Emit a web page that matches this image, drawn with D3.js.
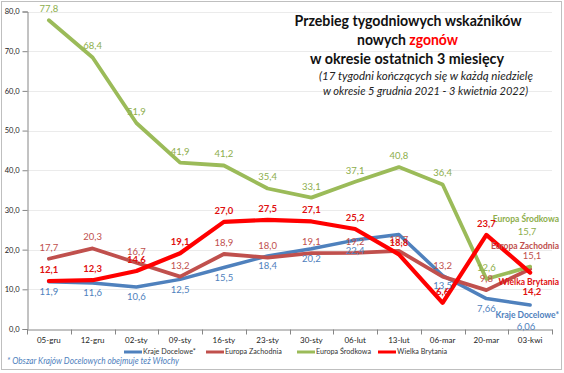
<!DOCTYPE html>
<html><head><meta charset="utf-8">
<script src="https://cdn.jsdelivr.net/npm/d3@7/dist/d3.min.js"></script>
<style>
html,body{margin:0;padding:0;background:#fff;}
svg{display:block;font-family:Lato,"Noto Sans",sans-serif;}
</style></head>
<body><svg id="c" width="564" height="373"></svg>
<script>
const categories = ["05-gru","12-gru","02-sty","09-sty","16-sty","23-sty","30-sty","06-lut","13-lut","06-mar","20-mar","03-kwi"];
const krajeDocelowe   = [11.9,11.6,10.6,12.5,15.5,18.4,20.2,22.4,23.8,13.5,7.66,6.06];
const europaZachodnia = [17.7,20.3,16.7,13.2,18.9,18.0,19.1,19.2,19.7,13.2,9.8,15.1];
const europaSrodkowa  = [77.8,68.4,51.9,41.9,41.2,35.4,33.1,37.1,40.8,36.4,12.6,15.7];
const wielkaBrytania  = [12.1,12.3,14.6,19.1,27.0,27.5,27.1,25.2,18.8,6.6,23.7,14.2];
const seriesNames = ["Kraje Docelowe*","Europa Zachodnia","Europa Środkowa","Wielka Brytania"];
const yTicks = [0,10,20,30,40,50,60,70,80];
const titleLines = ["Przebieg tygodniowych wskaźników","nowych ","zgonów","w okresie ostatnich 3 miesięcy"];
const subtitleLines = ["(17 tygodni kończących się w każdą niedzielę","w okresie 5 grudnia 2021 - 3 kwietnia 2022)"];
const footnote = "* Obszar Krajów Docelowych obejmuje też Włochy";

const series = [
  {name:seriesNames[0], values:krajeDocelowe,   color:"#4F81BD", label:"#4F81BD", width:3.5, below:true,  bold:false, hide:[8]},
  {name:seriesNames[1], values:europaZachodnia, color:"#C0504D", label:"#C0504D", width:3.8, below:false, bold:false, hide:[]},
  {name:seriesNames[2], values:europaSrodkowa,  color:"#9BBB59", label:"#8DAE4C", width:3.8, below:false, bold:false, hide:[]},
  {name:seriesNames[3], values:wielkaBrytania,  color:"#FF0000", label:"#E01010", width:4.2, below:false, bold:true,  hide:[]}
];
// end label layout (name / value) for the last point of each series
const endLabels = [
  {nameY:316, valX:526, valY:328},
  {nameY:247, valX:532, valY:257},
  {nameY:220, valX:527, valY:233},
  {nameY:283, valX:532, valY:293}
];

const fmt = v => {
  const d = Math.abs(Math.round(v*10) - v*10) < 1e-6 ? 1 : 2;
  return v.toFixed(d).replace(".", ",");
};

const svg = d3.select("#c");
// outer frame
svg.append("rect").attr("x",1.5).attr("y",1.5).attr("width",560).attr("height",368)
  .attr("fill","#fff").attr("stroke","#bfbfbf").attr("stroke-width",1);

const x = d3.scaleBand().domain(categories).range([27,552]);
const y = d3.scaleLinear().domain([0,80]).range([329,11.5]);
const cx = c => x(c) + x.bandwidth()/2;

// gridlines
svg.append("g").selectAll("line").data(yTicks.filter(t=>t>0)).join("line")
  .attr("x1",27).attr("x2",552).attr("y1",d=>Math.round(y(d))+0.5).attr("y2",d=>Math.round(y(d))+0.5)
  .attr("stroke","#ebebeb").attr("stroke-width",1);

// y axis
const ya = svg.append("g").attr("transform","translate(27.5,0)")
  .call(d3.axisLeft(y).tickValues(yTicks).tickSize(5).tickPadding(3).tickFormat(d=>d.toFixed(1).replace(".",",")));
ya.select(".domain").attr("stroke","#868686");
ya.selectAll(".tick line").attr("stroke","#868686");
ya.selectAll("text").attr("font-size",7.5).attr("fill","#222").attr("font-family","Lato");

// x axis
const xa = svg.append("g").attr("transform","translate(0,329.5)")
  .call(d3.axisBottom(x).tickSize(0).tickPadding(8).tickSizeOuter(0));
xa.select(".domain").attr("stroke","#868686");
xa.selectAll("text").attr("font-size",8).attr("fill","#222").attr("font-family","Lato");
const bounds = categories.map(c=>x(c)).concat([x.range()[1]]);
svg.append("g").selectAll("line").data(bounds).join("line")
  .attr("x1",d=>Math.round(d)+0.5).attr("x2",d=>Math.round(d)+0.5).attr("y1",329.5).attr("y2",334.5)
  .attr("stroke","#868686");

// lines
const line = d3.line().x((d,i)=>cx(categories[i])).y(d=>y(d)).curve(d3.curveLinear);
series.forEach(s=>{
  svg.append("path").datum(s.values).attr("d",line).attr("fill","none")
    .attr("stroke",s.color).attr("stroke-width",s.width).attr("stroke-linejoin","round").attr("stroke-linecap","round");
});

// data labels
series.forEach((s,si)=>{
  const g = svg.append("g");
  s.values.forEach((v,i)=>{
    if (i === s.values.length-1 || s.hide.includes(i)) return;
    g.append("text").attr("x",cx(categories[i])).attr("y",y(v) + (s.below ? 11 : -10.5))
      .attr("text-anchor","middle").attr("dominant-baseline","middle")
      .attr("font-size",9.5).attr("font-weight",s.bold?"bold":"normal")
      .attr("fill",s.label).text(fmt(v));
  });
  const e = endLabels[si];
  const last = s.values[s.values.length-1];
  g.append("text").attr("x",559).attr("y",e.nameY).attr("text-anchor","end").attr("dominant-baseline","middle")
    .attr("font-size",8.5).attr("font-weight","bold").attr("fill",s.label).text(s.name);
  g.append("text").attr("x",e.valX).attr("y",e.valY).attr("text-anchor","middle").attr("dominant-baseline","middle")
    .attr("font-size",9.5).attr("font-weight",s.bold?"bold":"normal").attr("fill",s.label).text(fmt(last));
});

// title
const t = svg.append("g").attr("font-family","Lato").attr("font-weight","bold").attr("fill","#111");
t.append("text").attr("x",408).attr("y",22).attr("text-anchor","middle").attr("dominant-baseline","middle")
  .attr("font-size",14.5).attr("textLength",227).attr("lengthAdjust","spacingAndGlyphs").text(titleLines[0]);
const t2 = t.append("text").attr("x",407.5).attr("y",41).attr("text-anchor","middle").attr("dominant-baseline","middle")
  .attr("font-size",14.5).attr("textLength",101).attr("lengthAdjust","spacingAndGlyphs");
t2.append("tspan").text(titleLines[1]);
t2.append("tspan").attr("fill","#FF0000").text(titleLines[2]);
t.append("text").attr("x",407).attr("y",60).attr("text-anchor","middle").attr("dominant-baseline","middle")
  .attr("font-size",14.5).attr("textLength",194).attr("lengthAdjust","spacingAndGlyphs").text(titleLines[3]);
const st = svg.append("g").attr("font-family","Lato").attr("font-style","italic").attr("fill","#222");
st.append("text").attr("x",426).attr("y",77).attr("text-anchor","middle").attr("dominant-baseline","middle")
  .attr("font-size",12).attr("textLength",214).attr("lengthAdjust","spacingAndGlyphs").text(subtitleLines[0]);
st.append("text").attr("x",425.5).attr("y",92).attr("text-anchor","middle").attr("dominant-baseline","middle")
  .attr("font-size",12).attr("textLength",205).attr("lengthAdjust","spacingAndGlyphs").text(subtitleLines[1]);

// legend
const legendX = [124, 206, 297, 378];
const lg = svg.append("g");
series.forEach((s,i)=>{
  lg.append("line").attr("x1",legendX[i]).attr("x2",legendX[i]+18).attr("y1",352).attr("y2",352)
    .attr("stroke",s.color).attr("stroke-width",3);
  lg.append("text").attr("x",legendX[i]+19).attr("y",352).attr("dominant-baseline","middle")
    .attr("font-size",7.2).attr("fill","#333").text(s.name);
});

// footnote
svg.append("text").attr("x",7).attr("y",362).attr("dominant-baseline","middle")
  .attr("font-size",9).attr("font-style","italic").attr("fill","#4F81BD")
  .attr("textLength",172).attr("lengthAdjust","spacingAndGlyphs").text(footnote);
</script>
</body></html>
